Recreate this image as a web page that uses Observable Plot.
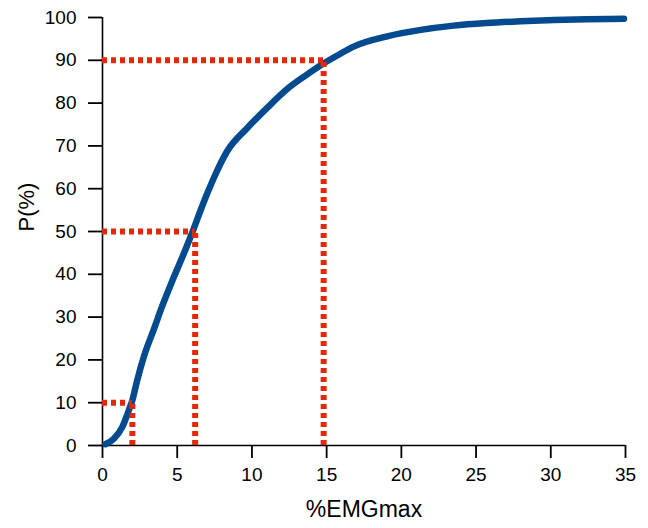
<!DOCTYPE html>
<html>
<head>
<meta charset="utf-8">
<script src="https://cdn.jsdelivr.net/npm/d3@7"></script>
<script src="https://cdn.jsdelivr.net/npm/@observablehq/plot@0.6"></script>
<style>
  html, body { margin: 0; padding: 0; background: #fff; }
  svg { font-family: "Liberation Sans", Arial, sans-serif; }
</style>
</head>
<body>
<div id="chart"></div>
<script>
// Cumulative distribution curve (x: %EMGmax, y: P(%))
const emg = [0.2, 0.76, 1.32, 1.76, 1.99, 2.32, 2.77, 3.44, 4.0, 4.66, 5.33, 6.0, 6.56, 7.0, 7.45, 8.35, 9.69, 11.02, 12.36, 13.7, 14.81, 15.8, 16.8, 19.06, 21.3, 23.5, 25.7, 28.0, 30.2, 32.4, 34.9];
const prob = [0.3, 1.6, 4.3, 8.2, 10.5, 15.2, 20.8, 27.2, 32.6, 38.4, 43.9, 49.7, 54.9, 58.8, 62.5, 68.8, 74.2, 78.9, 83.3, 86.7, 89.3, 91.3, 93.2, 95.6, 97.1, 98.1, 98.7, 99.1, 99.4, 99.6, 99.7];

// Percentile reference lines
const refP = [10, 50, 90];
const refEMG = [2.0, 6.2, 14.8];

const xTicks = [0, 5, 10, 15, 20, 25, 30, 35];
const yTicks = [0, 10, 20, 30, 40, 50, 60, 70, 80, 90, 100];

const curve = emg.map((x, i) => ({x, y: prob[i]}));
const refs = refP.map((p, i) => ({p, e: refEMG[i]}));

const blue = "#034a8e";
const red = "#e0280a";

const chart = Plot.plot({
  width: 648,
  height: 528,
  marginLeft: 102,
  marginRight: 23,
  marginTop: 17,
  marginBottom: 83,
  style: {fontFamily: '"Liberation Sans", Arial, sans-serif', background: "#fff"},
  x: {domain: [0, 35]},
  y: {domain: [0, 100]},
  marks: [
    Plot.axisX({ticks: xTicks, tickSize: 13, tickPadding: 9, fontSize: 19, label: null, stroke: "#000", strokeWidth: 1.8, color: "#000"}),
    Plot.axisY({ticks: yTicks, tickSize: 14, tickPadding: 12, fontSize: 19, label: null, stroke: "#000", strokeWidth: 1.8, color: "#000"}),
    Plot.ruleY([0], {stroke: "#000", strokeWidth: 1.6}),
    Plot.ruleX([0], {stroke: "#000", strokeWidth: 1.6}),
    Plot.line(curve, {x: "x", y: "y", stroke: blue, strokeWidth: 6.5, curve: "monotone-x", strokeLinecap: "round", strokeLinejoin: "round"}),
    Plot.ruleY(refs, {y: "p", x1: 0, x2: "e", stroke: red, strokeWidth: 6, strokeDasharray: "5,4"}),
    Plot.ruleX(refs, {x: "e", y1: 0, y2: "p", stroke: red, strokeWidth: 6, strokeDasharray: "5,4"}),
    Plot.text(["%EMGmax"], {frameAnchor: "bottom", dy: 71, fontSize: 23, fill: "#000", letterSpacing: "0.6px"}),
    Plot.text(["P(%)"], {frameAnchor: "left", dx: -76, rotate: -90, fontSize: 22, fill: "#000"})
  ]
});
document.getElementById("chart").appendChild(chart);
</script>
</body>
</html>
